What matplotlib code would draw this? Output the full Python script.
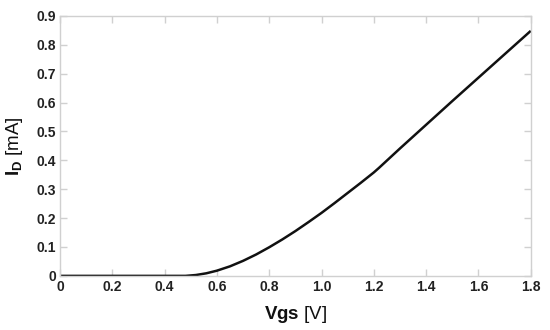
import matplotlib.pyplot as plt

plt.rcParams["font.family"] = ["Liberation Sans", "DejaVu Sans"]
plt.rcParams["mathtext.fontset"] = "custom"
plt.rcParams["mathtext.rm"] = "Liberation Sans"
plt.rcParams["mathtext.bf"] = "Liberation Sans:bold"

# Transfer curve
vgs = [0.0, 0.48, 0.52, 0.56, 0.60, 0.65, 0.70, 0.75, 0.80, 0.85, 0.90, 0.95,
       1.00, 1.05, 1.10, 1.15, 1.20, 1.22, 1.30, 1.40, 1.50, 1.60, 1.70, 1.80]
id_ma = [0.0, 0.0, 0.003, 0.009, 0.018, 0.033, 0.052, 0.074, 0.099, 0.126, 0.155, 0.186,
         0.218, 0.252, 0.287, 0.322, 0.358, 0.374, 0.441, 0.523, 0.605, 0.686, 0.767, 0.848]

x_ticks = [0, 0.2, 0.4, 0.6, 0.8, 1.0, 1.2, 1.4, 1.6, 1.8]
x_labels = ["0", "0.2", "0.4", "0.6", "0.8", "1.0", "1.2", "1.4", "1.6", "1.8"]
y_ticks = [0, 0.1, 0.2, 0.3, 0.4, 0.5, 0.6, 0.7, 0.8, 0.9]
y_labels = ["0", "0.1", "0.2", "0.3", "0.4", "0.5", "0.6", "0.7", "0.8", "0.9"]

fig = plt.figure(figsize=(5.5, 3.3), dpi=100, facecolor="white")
ax = fig.add_axes([0.109, 0.164, 0.856, 0.788])

ax.plot(vgs, id_ma, color="#111111", linewidth=1.8, solid_capstyle="butt")

ax.set_xlim(0, 1.8)
ax.set_ylim(0, 0.9)
ax.set_xticks(x_ticks)
ax.set_xticklabels(x_labels)
ax.set_yticks(y_ticks)
ax.set_yticklabels(y_labels)

for spine in ax.spines.values():
    spine.set_color("#d0d0d0")
    spine.set_linewidth(1.0)

ax.tick_params(direction="in", length=5, width=1, color="#d0d0d0",
               top=True, right=True, labelsize=10, labelcolor="#222222", pad=3)
for label in ax.get_xticklabels() + ax.get_yticklabels():
    label.set_fontweight("bold")

ax.set_xlabel(r"$\mathbf{Vgs}$ [V]", fontsize=13.5, color="#111111", labelpad=7)
ax.set_ylabel(r"$\mathbf{I_D}$ [mA]", fontsize=13.5, color="#111111", labelpad=8)

plt.savefig("out.png", dpi=100)
plt.close(fig)
